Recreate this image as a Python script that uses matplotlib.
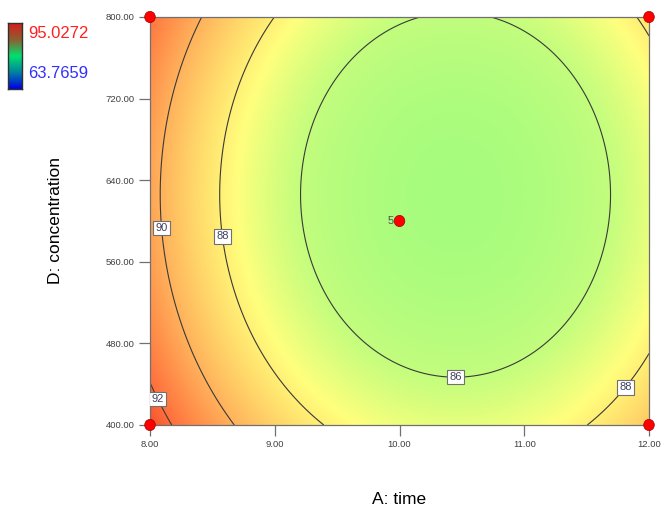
import numpy as np
import matplotlib.pyplot as plt
from matplotlib.colors import LinearSegmentedColormap
from matplotlib.patches import Ellipse

plt.rcParams['font.family'] = ['Liberation Sans', 'DejaVu Sans']

# factor ranges (actual units)
time_range = [8.0, 12.0]
conc_range = [400.0, 800.0]
time_ticks = [8.00, 9.00, 10.00, 11.00, 12.00]
conc_ticks = [400.00, 480.00, 560.00, 640.00, 720.00, 800.00]

# quadratic model in coded units: Y = b0 + bA*A + bD*D + bAA*A^2 + bDD*D^2
b0 = 84.71
bA = -1.77
bD = -0.49
bAA = 3.94
bDD = 1.90

levels = [86, 88, 90, 92]
label_pos = [(8.10, 593), (8.58, 585), (10.45, 454), (8.10, 428), (11.79, 439)]

# design points
pts_time = [8.0, 8.0, 12.0, 12.0, 10.0]
pts_conc = [400.0, 800.0, 400.0, 800.0, 600.0]
center_runs = 5

resp_min = 63.7659
resp_max = 95.0272

# colours of the surface, keyed by response value
shade_vals = [84.4, 86.0, 87.5, 88.5, 90.0, 91.0, 92.0, 93.0]
shade_cols = [(165, 252, 125), (195, 253, 125), (255, 255, 125), (255, 225, 110),
              (255, 178, 92), (255, 145, 75), (255, 112, 60), (245, 75, 40)]


def model(a, d):
    A = (a - 10.0) / 2.0
    D = (d - 600.0) / 200.0
    return b0 + bA * A + bD * D + bAA * A ** 2 + bDD * D ** 2


fig = plt.figure(figsize=(6.62, 5.19), dpi=100)
ax = fig.add_axes([150 / 662, 94 / 519, 499 / 662, 408 / 519])

a = np.linspace(time_range[0], time_range[1], 300)
d = np.linspace(conc_range[0], conc_range[1], 300)
AA, DD = np.meshgrid(a, d)
Z = model(AA, DD)

lo, hi = shade_vals[0], shade_vals[-1]
cmap = LinearSegmentedColormap.from_list(
    'dx', [((v - lo) / (hi - lo), tuple(c / 255 for c in col)) for v, col in zip(shade_vals, shade_cols)])
ax.imshow(Z, origin='lower', extent=[*time_range, *conc_range], aspect='auto',
          cmap=cmap, vmin=lo, vmax=hi, interpolation='bilinear')

cs = ax.contour(AA, DD, Z, levels=levels, colors='#3a3a3a', linewidths=0.8)
lbls = ax.clabel(cs, fmt='%d', fontsize=8, inline=False, manual=label_pos)
for t in lbls:
    t.set_rotation(0)
    t.set_color('#404060')
    t.set_bbox(dict(facecolor='white', edgecolor='#707070', linewidth=0.8, pad=1.6))
    t.set_zorder(5)

for x, y in zip(pts_time, pts_conc):
    ax.add_patch(Ellipse((x, y), 0.085, 11, facecolor='red', edgecolor='#a00000',
                         linewidth=0.5, clip_on=False, zorder=6))
ax.text(pts_time[-1] - 0.05, pts_conc[-1], str(center_runs), ha='right', va='center',
        fontsize=8, color='#505050', zorder=6)

ax.set_xlim(time_range)
ax.set_ylim(conc_range)
ax.set_xticks(time_ticks)
ax.set_yticks(conc_ticks)
ax.set_xticklabels(['%.2f' % v for v in time_ticks])
ax.set_yticklabels(['%.2f' % v for v in conc_ticks])
ax.tick_params(direction='out', length=8, width=0.9, color='#707070',
               labelsize=6.8, labelcolor='#404040', pad=3)
for s in ax.spines.values():
    s.set_color('#707070')
    s.set_linewidth(0.9)

fig.text(399 / 662, 1 - 500 / 519, 'A: time', ha='center', va='center', fontsize=12.5)
fig.text(55 / 662, 1 - 220 / 519, 'D: concentration', ha='center', va='center',
         rotation=90, fontsize=12.5)

# colour legend
cax = fig.add_axes([8 / 662, 1 - 89 / 519, 14 / 662, 66 / 519])
bar_cols = [(0, 0, 230), (0, 130, 160), (0, 225, 110), (140, 95, 50), (215, 30, 25)]
bar_cmap = LinearSegmentedColormap.from_list('bar', [tuple(c / 255 for c in col) for col in bar_cols])
cax.imshow(np.linspace(0, 1, 100).reshape(-1, 1), origin='lower', aspect='auto', cmap=bar_cmap)
cax.set_xticks([])
cax.set_yticks([])
for s in cax.spines.values():
    s.set_color('#303030')
    s.set_linewidth(1.0)
fig.text(28 / 662, 1 - 34 / 519, '%.4f' % resp_max, ha='left', va='center', fontsize=12, color='#ff2020')
fig.text(28 / 662, 1 - 73 / 519, '%.4f' % resp_min, ha='left', va='center', fontsize=12, color='#3030ff')

fig.savefig('out.png', dpi=100)
